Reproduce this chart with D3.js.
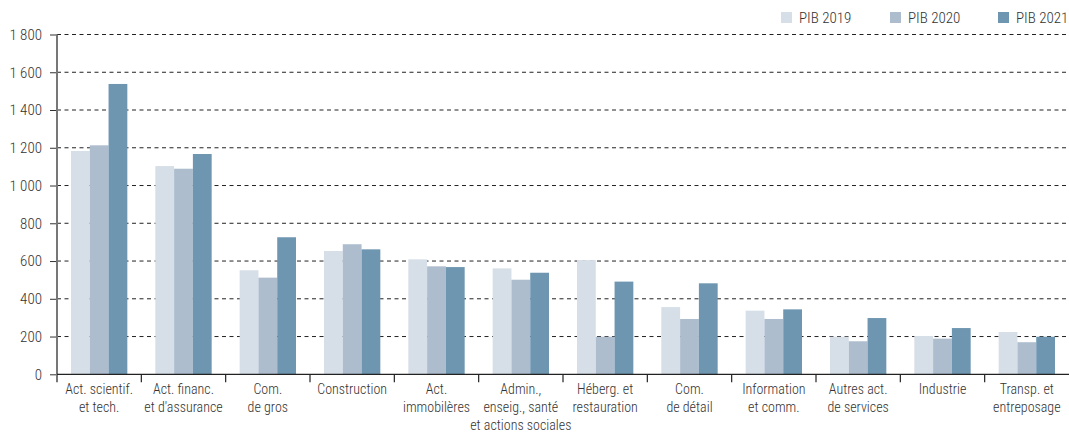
<!DOCTYPE html>
<html>
<head>
<meta charset="utf-8">
<script src="https://cdn.jsdelivr.net/npm/d3@7"></script>
<style>
body { margin: 0; background: #fff; }
text { font-family: "Roboto Condensed", sans-serif; font-weight: 300; fill: #333; }
</style>
</head>
<body>
<div id="chart"></div>
<script>
var categories = [
    ["Act. scientif.", "et tech."],
    ["Act. financ.", "et d'assurance"],
    ["Com.", "de gros"],
    ["Construction"],
    ["Act.", "immobilères"],
    ["Admin.,", "enseig., santé", "et actions sociales"],
    ["Héberg. et", "restauration"],
    ["Com.", "de détail"],
    ["Information", "et comm."],
    ["Autres act.", "de services"],
    ["Industrie"],
    ["Transp. et", "entreposage"]
];
var series = ["PIB 2019", "PIB 2020", "PIB 2021"];
var pib2019 = [1183, 1103, 551, 653, 609, 561, 605, 356, 337, 199, 203, 224];
var pib2020 = [1213, 1089, 512, 689, 572, 501, 199, 293, 293, 175, 189, 170];
var pib2021 = [1538, 1167, 726, 662, 568, 538, 491, 482, 344, 298, 245, 199];
var yTicks = [0, 200, 400, 600, 800, 1000, 1200, 1400, 1600, 1800];
var colors = ["#d6dee7", "#adbdce", "#6e96b1"];

var width = 1069, height = 433;
var mLeft = 57, mRight = 1069, mTop = 34.5, mBottom = 374.3;
var values = [pib2019, pib2020, pib2021];

var svg = d3.select("#chart").append("svg")
    .attr("width", width)
    .attr("height", height);

var x = d3.scaleBand()
    .domain(d3.range(categories.length))
    .range([mLeft, mRight]);

var x1 = d3.scaleBand()
    .domain(d3.range(series.length))
    .range([14, x.bandwidth() - 14]);

var y = d3.scaleLinear()
    .domain([0, 1800])
    .range([mBottom, mTop]);

var fmt = function (d) { return d3.format(",")(d).replace(",", " "); };

// grille
svg.append("g").selectAll("line")
    .data(yTicks.filter(function (d) { return d > 0; }))
    .enter().append("line")
    .attr("x1", mLeft).attr("x2", mRight)
    .attr("y1", function (d) { return y(d); })
    .attr("y2", function (d) { return y(d); })
    .attr("stroke", "#222")
    .attr("stroke-width", 1)
    .attr("stroke-dasharray", "4,3.5");

// barres
var g = svg.append("g").selectAll("g")
    .data(categories)
    .enter().append("g")
    .attr("transform", function (d, i) { return "translate(" + x(i) + ",0)"; });

g.selectAll("rect")
    .data(function (d, i) { return values.map(function (v, s) { return { s: s, v: v[i] }; }); })
    .enter().append("rect")
    .attr("x", function (d) { return x1(d.s); })
    .attr("width", x1.bandwidth())
    .attr("y", function (d) { return y(d.v); })
    .attr("height", function (d) { return mBottom - y(d.v); })
    .attr("fill", function (d) { return colors[d.s]; });

// axe y
var yAxis = svg.append("g")
    .attr("transform", "translate(" + mLeft + ",0)")
    .call(d3.axisLeft(y).tickValues(yTicks).tickFormat(fmt).tickSize(7).tickPadding(8));
yAxis.select(".domain").remove();
yAxis.selectAll(".tick line").attr("stroke", "#333");
yAxis.selectAll(".tick text").style("font-size", "15px").style("font-family", "'Roboto Condensed', sans-serif").attr("fill", "#333");

svg.append("line")
    .attr("x1", mLeft).attr("x2", mLeft)
    .attr("y1", mTop).attr("y2", mBottom + 8)
    .attr("stroke", "#777").attr("stroke-width", 2);

// axe x
svg.append("line")
    .attr("x1", mLeft).attr("x2", mRight)
    .attr("y1", mBottom).attr("y2", mBottom)
    .attr("stroke", "#222").attr("stroke-width", 1.2);

svg.append("g").selectAll("line")
    .data(d3.range(1, categories.length))
    .enter().append("line")
    .attr("x1", function (d) { return x(d); })
    .attr("x2", function (d) { return x(d); })
    .attr("y1", mBottom).attr("y2", mBottom + 8)
    .attr("stroke", "#222").attr("stroke-width", 1.2);

var labels = svg.append("g").selectAll("text")
    .data(categories)
    .enter().append("text")
    .attr("text-anchor", "middle")
    .style("font-size", "14px")
    .attr("transform", function (d, i) { return "translate(" + (x(i) + x.bandwidth() / 2) + "," + (mBottom + 20) + ")"; });

labels.selectAll("tspan")
    .data(function (d) { return d; })
    .enter().append("tspan")
    .attr("x", 0)
    .attr("y", function (d, i) { return i * 18; })
    .text(function (d) { return d; });

// légende
var legendX = [781, 890, 998];
var leg = svg.append("g").selectAll("g")
    .data(series)
    .enter().append("g")
    .attr("transform", function (d, i) { return "translate(" + legendX[i] + ",12)"; });
leg.append("rect")
    .attr("width", 11).attr("height", 11)
    .attr("fill", function (d, i) { return colors[i]; });
leg.append("text")
    .attr("x", 18).attr("y", 10.5)
    .style("font-size", "15px")
    .text(function (d) { return d; });
</script>
</body>
</html>
